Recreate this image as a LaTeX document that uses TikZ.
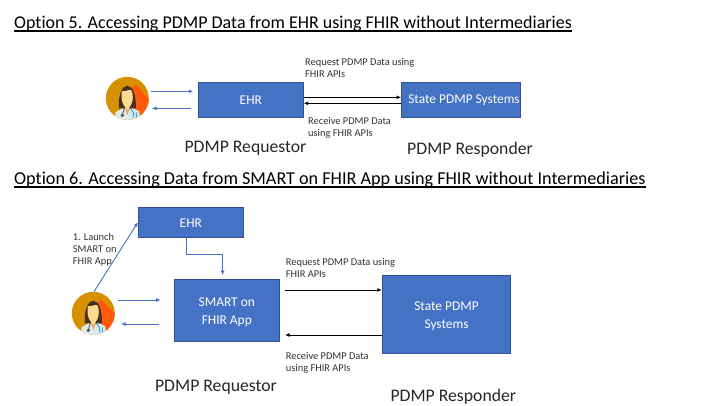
\documentclass[tikz,border=0pt]{standalone}
\usepackage{fontspec}
\setmainfont{Carlito}[Ligatures=NoCommon]
\usetikzlibrary{arrows.meta}
\definecolor{boxblue}{HTML}{4472C4}
\definecolor{boxedge}{HTML}{2F528F}
\definecolor{discgold}{HTML}{D69000}
\definecolor{discred}{HTML}{FF5A0A}
\definecolor{hairbrown}{HTML}{4A2E22}
\definecolor{faceskin}{HTML}{FBDC8E}
\definecolor{coatpale}{HTML}{DCEBEA}
\tikzset{
    boxnode/.style={draw=boxedge, fill=boxblue, text=white, align=center, inner sep=0pt, line width=0.8pt, font=\fontsize{13.4}{18}\selectfont},
    arrowblue/.style={draw=boxblue, line width=0.9pt, -{Latex[length=4.5pt,width=4pt]}},
    arrowblack/.style={draw=black, line width=0.9pt, -{Latex[length=4.5pt,width=4pt]}},
    smalllabel/.style={align=left, anchor=north west, inner sep=0pt, font=\fontsize{10.4}{12}\selectfont, text=black!80},
    rolelabel/.style={anchor=base, inner sep=0pt, font=\fontsize{17.7}{20}\selectfont, text=black!85},
    titlelabel/.style={anchor=base west, inner sep=0pt, font=\fontsize{18}{20}\selectfont}
}
\newcommand{\doctor}[1]{%
    \begin{scope}[shift={#1}]
        \fill[discgold] (0,0) circle (21.5);
        \begin{scope}
            \clip (0,0) circle (21.5);
            \fill[discred] (4,-10) -- (8,-14) -- (24,3) -- (24,24) -- (5,24) -- cycle;
            \fill[coatpale] (-12,24) -- (-12,14) -- (-4,9.5) -- (5,9.5) -- (12,13) -- (13,24) -- cycle;
            \fill[faceskin!70!red] (-2,10) -- (2.5,10) -- (0,17) -- cycle;
            \draw[black!70, line width=0.8pt] (-3,10) -- (-5,17);
            \fill[black!70] (-5,17) circle (1.8);
            \draw[boxblue!60!cyan, line width=1pt] (3,10) -- (6,14) -- (6,19) (9,14) -- (9,19);
        \end{scope}
        \fill[hairbrown] (-8.5,10) .. controls (-10,-20) and (10,-20) .. (8.5,10) -- cycle;
        \fill[faceskin] (-5.5,-7) .. controls (-1,-7) and (2,-9) .. (4,-8)
            .. controls (6,-6) and (6,3) .. (4,6) -- (1,11) -- (-1,11) -- (-4,6) .. controls (-6,3) and (-6,-3) .. (-5.5,-7) -- cycle;
    \end{scope}
}
\begin{document}
\begin{tikzpicture}[x=1pt, y=-1pt]
    \useasboundingbox (0,0) rectangle (720,405);

    % option 5
    \node[titlelabel] (title5) at (14,28) {Option 5. Accessing PDMP Data from EHR using FHIR without Intermediaries};
    \draw[line width=1.4pt] (14,31) -- (title5.base east |- 0,31);
    \doctor{(127.3,98.3)}
    \coordinate (doc5r) at (150.7,91.3); \coordinate (doc5l) at (152,108.3);
    \node[boxnode, minimum width=105pt, minimum height=35pt] (ehr5) at (250.8,99.8) {EHR};
    \node[boxnode, minimum width=119pt, minimum height=35pt] (pdmp5) at (461,99.8) {\hspace{6pt}State PDMP Systems};
    \coordinate (ehr5in) at (193.3,91.3); \coordinate (ehr5out) at (190.7,108.3);
    \draw[arrowblue] (doc5r) -- (ehr5in);
    \draw[arrowblue] (ehr5out) -- (doc5l);
    \draw[arrowblack] (ehr5.east |- 0,97.3) -- (pdmp5.west |- 0,97.3);
    \draw[arrowblack] (pdmp5.west |- 0,103.3) -- (ehr5.east |- 0,103.3);
    \node[smalllabel] (req5) at (305,58) {Request PDMP Data using\\FHIR APIs};
    \node[smalllabel] (rec5) at (308,117.5) {Receive PDMP Data\\using FHIR APIs};
    \node[rolelabel] (role5a) at (245.5,152.5) {PDMP Requestor};
    \node[rolelabel] (role5b) at (470,154.7) {PDMP Responder};

    % option 6
    \node[titlelabel, font=\fontsize{18.17}{20}\selectfont] (title6) at (14,184) {Option 6. Accessing Data from SMART on FHIR App using FHIR without Intermediaries};
    \draw[line width=1.4pt] (14,187) -- (title6.base east |- 0,187);
    \doctor{(93.3,313.3)}
    \node[boxnode, minimum width=105pt, minimum height=30pt] (ehr6) at (190.8,222.3) {\rule{0pt}{11pt}EHR};
    \node[boxnode, minimum width=105pt, minimum height=62pt] (app6) at (226.8,310.3) {\rule{0pt}{13pt}SMART on\\FHIR App};
    \node[boxnode, minimum width=128.4pt, minimum height=77.6pt] (pdmp6) at (446.5,314.5) {\rule{0pt}{12pt}State PDMP\\Systems};
    \coordinate (doc6top) at (94,291.7); \coordinate (doc6r) at (118.3,300); \coordinate (doc6l) at (121,324);
    \coordinate (app6in) at (160.7,300); \coordinate (app6out) at (159.3,324);
    \coordinate (app6top) at (222.7,275); \coordinate (ehr6out) at (186.3,237.3);
    \coordinate (app6r) at (284.5,290); \coordinate (app6s) at (285,335);
    \draw[arrowblue] (doc6top) -- (ehr6.west);
    \draw[arrowblue] (doc6r) -- (app6in);
    \draw[arrowblue] (app6out) -- (doc6l);
    \draw[arrowblue] (ehr6out) |- (222.7,254) -- (app6top);
    \draw[arrowblack] (app6r) -- (pdmp6.west |- app6r);
    \draw[arrowblack] (pdmp6.west |- app6s) -- (app6s);
    \node[smalllabel] (launch6) at (72.7,232.8) {1. Launch\\SMART on\\FHIR App};
    \node[smalllabel] (req6) at (285.7,258) {Request PDMP Data using\\FHIR APIs};
    \node[smalllabel] (rec6) at (285.7,352.5) {Receive PDMP Data\\using FHIR APIs};
    \node[rolelabel] (role6a) at (216,391.5) {PDMP Requestor};
    \node[rolelabel] (role6b) at (453.3,401.7) {PDMP Responder};
\end{tikzpicture}
\end{document}
